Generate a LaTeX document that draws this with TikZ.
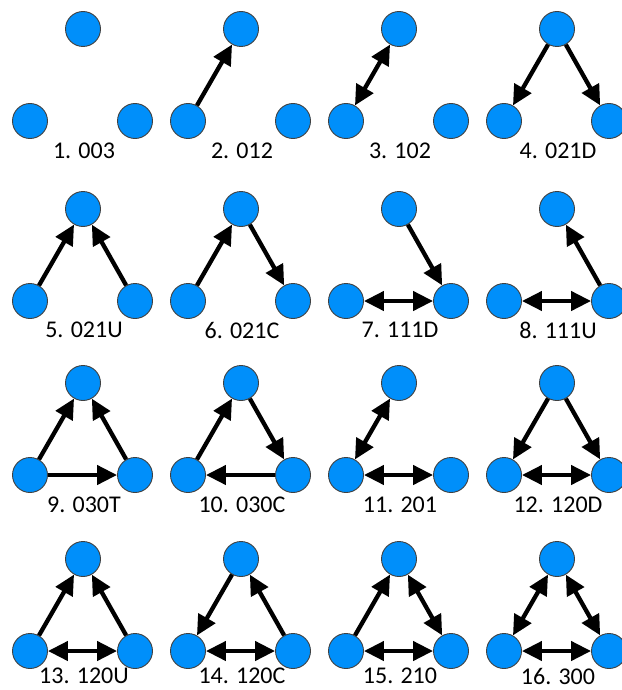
\documentclass[tikz,border=0pt]{standalone}
\usepackage{fontspec}
\setmainfont{Carlito}
\usetikzlibrary{arrows.meta}
\definecolor{nodeblue}{RGB}{0,143,250}
\tikzset{
  vtx/.style={circle,fill=nodeblue,draw=black!75,line width=0.9pt,minimum size=35pt,inner sep=0pt},
  lbl/.style={font=\fontsize{24}{27}\selectfont,inner sep=0pt},
  tip/.tip={Triangle[length=20pt,width=19pt]},
  ed/.style={line width=4.3pt,-tip},
  bi/.style={line width=4.3pt,tip-tip},
}
\newcommand\mytriad[5]{%
  \node[vtx] (T#1) at (#2,#3) {};
  \node[vtx] (L#1) at (#2-53,#3+92) {};
  \node[vtx] (R#1) at (#2+52,#3+92) {};
  \node[lbl] (N#1) at (#2+1,#4) {#5};
}
\begin{document}
\begin{tikzpicture}[x=1pt,y=-1pt]
\useasboundingbox (0,0) rectangle (621,690);
% row 1
\mytriad{1}{83}{29}{151}{1. 003}
\mytriad{2}{241}{29}{151}{2. 012}
\mytriad{3}{399}{29}{151}{3. 102}
\mytriad{4}{557}{29}{151}{4. 021D}
% row 2
\mytriad{5}{83}{209}{330}{5. 021U}
\mytriad{6}{241}{209}{330}{6. 021C}
\mytriad{7}{399}{209}{330}{7. 111D}
\mytriad{8}{557}{209}{330}{8. 111U}
% row 3
\mytriad{9}{83}{383}{505}{9. 030T}
\mytriad{10}{241}{383}{505}{10. 030C}
\mytriad{11}{399}{383}{505}{11. 201}
\mytriad{12}{557}{383}{505}{12. 120D}
% row 4
\mytriad{13}{83}{559}{676}{13. 120U}
\mytriad{14}{241}{559}{676}{14. 120C}
\mytriad{15}{399}{559}{676}{15. 210}
\mytriad{16}{557}{559}{676}{16. 300}
% edges
\draw[ed] (L2) -- (T2);
\draw[bi] (L3) -- (T3);
\draw[ed] (T4) -- (L4);
\draw[ed] (T4) -- (R4);
\draw[ed] (L5) -- (T5);
\draw[ed] (R5) -- (T5);
\draw[ed] (L6) -- (T6);
\draw[ed] (T6) -- (R6);
\draw[ed] (T7) -- (R7);
\draw[bi] (L7) -- (R7);
\draw[ed] (R8) -- (T8);
\draw[bi] (L8) -- (R8);
\draw[ed] (L9) -- (T9);
\draw[ed] (R9) -- (T9);
\draw[ed] (L9) -- (R9);
\draw[ed] (L10) -- (T10);
\draw[ed] (T10) -- (R10);
\draw[ed] (R10) -- (L10);
\draw[bi] (L11) -- (T11);
\draw[bi] (L11) -- (R11);
\draw[ed] (T12) -- (L12);
\draw[ed] (T12) -- (R12);
\draw[bi] (L12) -- (R12);
\draw[ed] (L13) -- (T13);
\draw[ed] (R13) -- (T13);
\draw[bi] (L13) -- (R13);
\draw[ed] (T14) -- (L14);
\draw[ed] (R14) -- (T14);
\draw[bi] (L14) -- (R14);
\draw[ed] (L15) -- (T15);
\draw[bi] (T15) -- (R15);
\draw[bi] (L15) -- (R15);
\draw[bi] (L16) -- (T16);
\draw[bi] (T16) -- (R16);
\draw[bi] (L16) -- (R16);
\end{tikzpicture}
\end{document}
